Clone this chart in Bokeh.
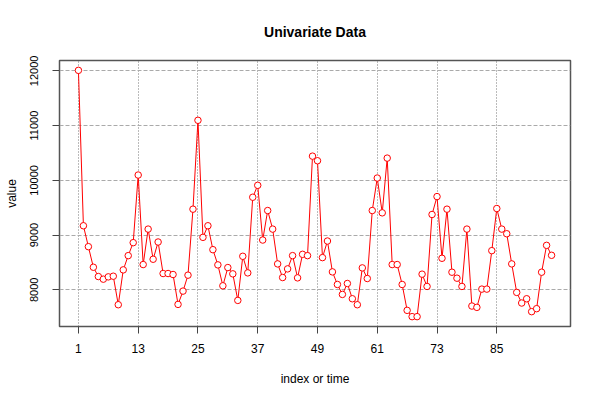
from bokeh.plotting import figure
from bokeh.models import Range1d, FixedTicker, ColumnDataSource
from bokeh.embed import file_html
from bokeh.resources import INLINE

# ---- data ----
values = [
    12010, 9170, 8788, 8412, 8242, 8194, 8236, 8248, 7727, 8364,
    8624, 8861, 10097, 8461, 9109, 8558, 8873, 8297, 8297, 8279,
    7733, 7976, 8267, 9473, 11097, 8958, 9170, 8733, 8455, 8073,
    8406, 8291, 7806, 8612, 8309, 9691, 9909, 8909, 9448, 9109,
    8473, 8224, 8382, 8624, 8218, 8648, 8624, 10442, 10358, 8588,
    8891, 8327, 8097, 7915, 8115, 7836, 7727, 8400, 8206, 9448,
    10042, 9406, 10406, 8461, 8461, 8097, 7624, 7509, 7509, 8285,
    8061, 9376, 9703, 8576, 9473, 8321, 8212, 8061, 9109, 7703,
    7679, 8012, 8012, 8715, 9485, 9109, 9024, 8473, 7952, 7758,
    7836, 7600, 7655, 8321, 8812, 8630,
]
index = list(range(1, len(values) + 1))
x_ticks = [1, 13, 25, 37, 49, 61, 73, 85]
y_ticks = [8000, 9000, 10000, 11000, 12000]
title_text = "Univariate Data"
x_label = "index or time"
y_label = "value"

FONT = "Liberation Sans"

n = len(values)
xpad = 0.04 * (n - 1)
vmin, vmax = min(values), max(values)
ypad = 0.04 * (vmax - vmin)

src = ColumnDataSource(dict(x=index, y=values))

p = figure(
    width=592, height=392,
    output_backend="svg", toolbar_location=None,
    x_range=Range1d(1 - xpad, n + xpad),
    y_range=Range1d(vmin - ypad, vmax + ypad),
    min_border_left=59, min_border_right=22,
    min_border_top=59, min_border_bottom=66,
    background_fill_color="white", border_fill_color="white",
)

# title
p.title.text = title_text
p.title.align = "center"
p.title.vertical_align = "bottom"
p.title.text_font = FONT
p.title.text_font_size = "14px"
p.title.text_font_style = "bold"
p.title.text_color = "black"
p.title.standoff = 42

# frame
p.outline_line_color = "#555555"
p.outline_line_width = 1.5

# axes
for ax in (p.xaxis[0], p.yaxis[0]):
    ax.axis_line_color = None
    ax.major_tick_out = 7
    ax.major_tick_in = 0
    ax.minor_tick_line_color = None
    ax.major_tick_line_color = "#444444"
    ax.major_label_text_font = FONT
    ax.major_label_text_color = "black"
    ax.axis_label_text_font = FONT
    ax.axis_label_text_font_style = "normal"
    ax.axis_label_text_font_size = "12px"
    ax.axis_label_text_color = "black"

p.xaxis.ticker = FixedTicker(ticks=x_ticks)
p.xaxis.major_label_text_font_size = "12px"
p.xaxis.major_label_standoff = 10
p.xaxis.axis_label = x_label
p.xaxis.axis_label_standoff = 16

p.yaxis.ticker = FixedTicker(ticks=y_ticks)
p.yaxis.major_label_text_font_size = "11px"
p.yaxis.major_label_orientation = "vertical"
p.yaxis.major_label_standoff = 14
p.yaxis.axis_label = y_label
p.yaxis.axis_label_standoff = 9

# grids
p.xgrid.ticker = FixedTicker(ticks=x_ticks)
p.xgrid.grid_line_color = "#777777"
p.xgrid.grid_line_dash = "1 2"
p.xgrid.grid_line_width = 1
p.ygrid.ticker = FixedTicker(ticks=y_ticks)
p.ygrid.grid_line_color = "#aaaaaa"
p.ygrid.grid_line_dash = "4 2"
p.ygrid.grid_line_width = 1

# data
p.line("x", "y", source=src, line_color="red", line_width=1)
p.scatter("x", "y", source=src, marker="circle", size=6.5,
          line_color="red", line_width=1, fill_color="white")

open("out.html", "w").write(file_html(p, INLINE))
